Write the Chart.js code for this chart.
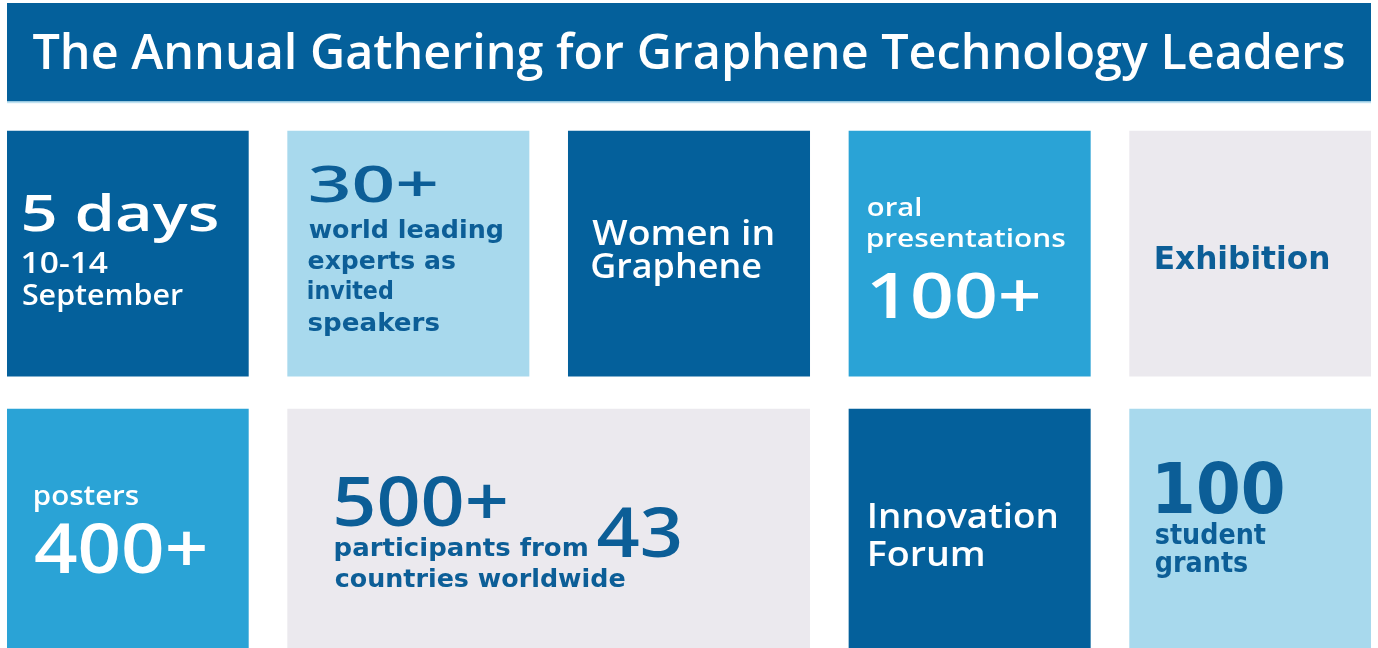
<!DOCTYPE html>
<html>
<head>
<meta charset="utf-8">
<script src="https://cdn.jsdelivr.net/npm/chart.js@4.4.1/dist/chart.umd.min.js"></script>
<style>
  html, body { margin: 0; padding: 0; background: #fff; overflow: hidden; }
  canvas { display: block; }
</style>
</head>
<body>
<canvas id="board" width="1378" height="648"></canvas>
<script>
// board.js - the conference "key figures" board drawn as floating bars

const TITLE = 'The Annual Gathering for Graphene Technology Leaders';

// tiles: top row left to right, then bottom row
const tileNames = ['5 days', '30+ speakers', 'Women in Graphene', '100+ oral', 'Exhibition',
                   '400+ posters', '500+ participants', 'Innovation Forum', '100 grants'];
const tileRow  = [0, 0, 0, 0, 0, 1, 1, 1, 1];
const tileFrom = [0, 1, 2, 3, 4, 0, 1, 3, 4];
const tileTo   = [0.86, 1.86, 2.86, 3.86, 4.86, 0.86, 2.86, 3.86, 4.86];

// key figures printed on the tiles
const figures = ['5 days', '30+', '100+', '400+', '500+', '43', '100'];

const DARK = '#04609b', MID = '#2aa3d6', LIGHT = '#a8d9ed', GREY = '#ebe9ee';
const INK = '#0c5e97', WHITE = '#ffffff';
const tileColor = [DARK, LIGHT, DARK, MID, GREY, MID, GREY, DARK, LIGHT];
const textColor = [WHITE, INK, WHITE, WHITE, INK, WHITE, INK, WHITE, INK];

const OS = '"Open Sans", "Noto Sans", sans-serif';
const DV = '"DejaVu Sans", sans-serif';
const font = (w, s, fam) => `${w} ${s}px ${fam}`;

// [text, font, x from tile left, baseline from tile top, ink width]
const tileText = [
    [[figures[0], font(600, 51, OS), 16, 100, 194],
     ['10-14', font(600, 28, OS), 16, 142, 85],
     ['September', font(600, 28, OS), 16, 174, 160]],
    [[figures[1], font(600, 51, OS), 23, 71, 125],
     ['world leading', font('bold', 24, DV), 21, 107, 194],
     ['experts as', font('bold', 24, DV), 21, 138, 147],
     ['invited', font('bold', 24, DV), 21, 168, 84],
     ['speakers', font('bold', 24, DV), 21, 200, 131]],
    [['Women in', font(600, 34, OS), 24, 114, 180],
     ['Graphene', font(600, 34, OS), 24, 147, 168]],
    [['oral', font(600, 26, OS), 19, 85, 53],
     ['presentations', font(600, 26, OS), 19, 116, 197],
     [figures[2], font(600, 63, OS), 22, 187, 167]],
    [['Exhibition', font('bold', 32, DV), 26, 138, 173]],
    [['posters', font(600, 27, OS), 28, 96, 104],
     [figures[3], font(600, 68, OS), 28, 164, 170]],
    [[figures[4], font(600, 68, OS), 48, 117, 170],
     ['participants from', font('bold', 25, DV), 48, 147, 252],
     ['countries worldwide', font('bold', 25, DV), 48, 178, 289],
     [figures[5], font(600, 68, OS), 310, 148, 82]],
    [['Innovation', font(600, 34, OS), 21, 119, 186],
     ['Forum', font(600, 34, OS), 21, 157, 113]],
    [[figures[6], font('bold', 69, DV), 28, 104, 125],
     ['student', font('bold', 28, DV), 26, 135, 110],
     ['grants', font('bold', 28, DV), 26, 163, 92]]
];

// white page + blue banner behind the title
const bannerPlugin = {
    id: 'banner',
    beforeDraw(chart) {
        const ctx = chart.ctx;
        const t = chart.titleBlock;
        ctx.save();
        ctx.fillStyle = '#ffffff';
        ctx.fillRect(0, 0, chart.width, chart.height);
        ctx.fillStyle = DARK;
        ctx.fillRect(t.left, t.top, t.right - t.left, t.bottom - t.top);
        ctx.fillStyle = '#bfe1f1';
        ctx.fillRect(t.left, t.bottom - 1, t.right - t.left, 2);
        ctx.restore();
    }
};

// squeeze/stretch a line so its width matches the board
function fitText(ctx, text, x, y, width) {
    const m = ctx.measureText(text);
    const ink = m.actualBoundingBoxLeft + m.actualBoundingBoxRight;
    ctx.save();
    ctx.translate(x, y);
    ctx.scale(width / ink, 1);
    ctx.fillText(text, m.actualBoundingBoxLeft, 0);
    ctx.restore();
}

const labelPlugin = {
    id: 'tileLabels',
    afterDatasetsDraw(chart) {
        const ctx = chart.ctx;
        const meta = chart.getDatasetMeta(0);
        ctx.save();
        ctx.textAlign = 'left';
        ctx.textBaseline = 'alphabetic';
        meta.data.forEach((bar, i) => {
            const p = bar.getProps(['x', 'y', 'base', 'height'], true);
            const left = Math.min(p.x, p.base);
            const top = p.y - p.height / 2;
            ctx.fillStyle = textColor[i];
            tileText[i].forEach(([text, f, dx, dy, w]) => {
                ctx.font = f;
                fitText(ctx, text, left + dx, top + dy, w);
            });
        });
        ctx.restore();
    }
};

new Chart(document.getElementById('board'), {
    type: 'bar',
    data: {
        labels: tileNames,
        datasets: [{
            label: 'tiles',
            data: tileRow.map((r, i) => ({ x: [tileFrom[i], tileTo[i]], y: r })),
            backgroundColor: tileColor,
            borderWidth: 0,
            barThickness: 245,
            grouped: false
        }]
    },
    options: {
        indexAxis: 'y',
        responsive: false,
        animation: false,
        events: [],
        layout: { padding: { left: 7, right: 7, top: 3, bottom: 0 } },
        scales: {
            x: { type: 'linear', min: 0, max: 4.86, offset: false, display: false },
            y: { type: 'linear', min: -0.545, max: 1.419, reverse: true, offset: false, display: false }
        },
        plugins: {
            legend: { display: false },
            tooltip: { enabled: false },
            title: {
                display: true,
                text: TITLE,
                color: '#ffffff',
                font: { family: 'Open Sans', size: 48.5, weight: 600, lineHeight: 1.2 },
                padding: { top: 23, bottom: 18 }
            }
        }
    },
    plugins: [bannerPlugin, labelPlugin]
});
</script>
</body>
</html>
